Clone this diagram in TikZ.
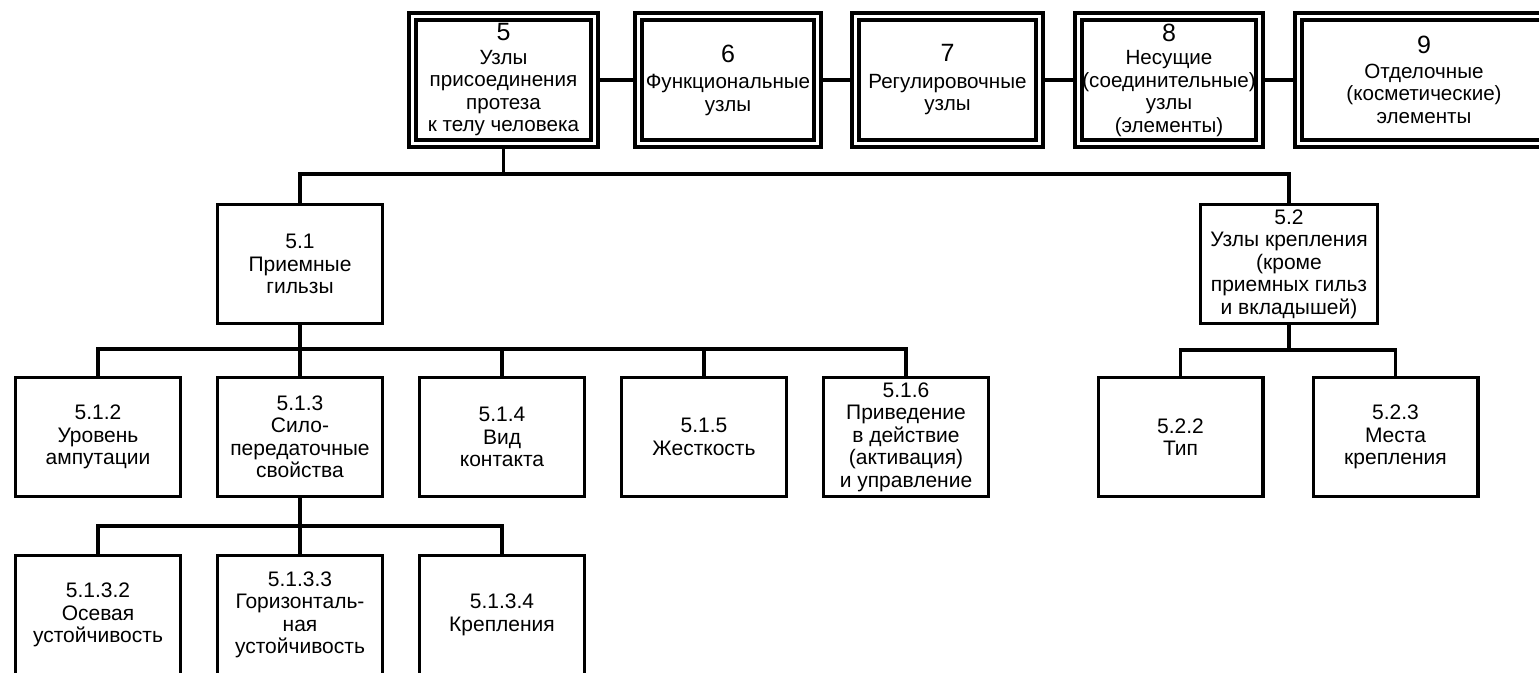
\documentclass[tikz,border=0pt]{standalone}
\usepackage{fontspec}
\setmainfont{Liberation Sans}
\usetikzlibrary{positioning}

\begin{document}
\begin{tikzpicture}[x=0.5pt,y=0.5pt,yscale=-1,xscale=1,
  topbox/.style={draw, double, line width=1.9pt, double distance=1.6pt, inner sep=0pt, minimum height=63.6pt, align=center, font=\fontsize{10.3}{11.25}\selectfont},
  subbox/.style={draw, line width=1.65pt, inner sep=0pt, minimum width=82.35pt, minimum height=59.35pt, align=center, font=\fontsize{10.5}{11.25}\selectfont},
  link/.style={line width=1.65pt, line cap=rect},
  toplink/.style={link, shorten <=2.6pt, shorten >=2.6pt}]
%set diagram size 1539 x 673
\useasboundingbox (0,0) rectangle (1539,673);
\clip (0,0) rectangle (1539,673);

%Shape: Double Rectangles (top row)
\node (n5) [topbox, minimum width=91.1pt] at (503.5,80) {{\fontsize{12.5}{13}\selectfont 5}\\[0.5pt]Узлы\\присоединения\\протеза\\к телу человека};
\node (n6) [topbox, minimum width=89.6pt] at (728,80) {{\fontsize{12.5}{13}\selectfont 6}\\[2pt]Функциональные\\узлы};
\node (n7) [topbox, minimum width=92.1pt] at (947.5,80) {{\fontsize{12.5}{13}\selectfont 7}\\[2pt]Регулировочные\\узлы};
\node (n8) [topbox, minimum width=90.6pt] at (1169,80) {{\fontsize{12.5}{13}\selectfont 8}\\[0.5pt]Несущие\\(соединительные)\\узлы\\(элементы)};
\node (n9) [topbox, minimum width=125.6pt] at (1424,80) {{\fontsize{12.5}{13}\selectfont 9}\\[1pt]Отделочные\\(косметические)\\элементы};

%Shape: Rectangles (second level)
\node (n51) [subbox] at (300,264) {5.1\\Приемные\\гильзы};
\node (n52) [subbox, minimum width=88.35pt] at (1289,264) {5.2\\Узлы крепления\\(кроме\\приемных гильз\\и вкладышей)};

%Shape: Rectangles (third level)
\node (n512) [subbox] at (98,437) {5.1.2\\Уровень\\ампутации};
\node (n513) [subbox] at (300,437) {5.1.3\\Сило-\\передаточные\\свойства};
\node (n514) [subbox] at (502,437) {5.1.4\\Вид\\контакта};
\node (n515) [subbox] at (704,437) {5.1.5\\Жесткость};
\node (n516) [subbox] at (906,437) {5.1.6\\Приведение\\в действие\\(активация)\\и управление};
\node (n522) [subbox] at (1180.5,437) {5.2.2\\Тип};
\node (n523) [subbox] at (1395.5,437) {5.2.3\\Места\\крепления};

%Shape: Rectangles (fourth level)
\node (n5132) [subbox] at (98,615) {5.1.3.2\\Осевая\\устойчивость};
\node (n5133) [subbox] at (300,615) {5.1.3.3\\Горизонталь-\\ная\\устойчивость};
\node (n5134) [subbox] at (502,615) {5.1.3.4\\Крепления};

%Straight Lines (top row)
\draw [toplink] (n5.east) -- (n6.west);
\draw [toplink] (n6.east) -- (n7.west);
\draw [toplink] (n7.east) -- (n8.west);
\draw [toplink] (n8.east) -- (n9.west);

%Straight Lines (5 to 5.1, 5.2)
\coordinate (bus1) at (503.5,174);
\draw [link, shorten <=2.6pt] (n5.south) -- (bus1);
\draw [link] (bus1 -| n51.north) -- (bus1 -| n52.north);
\foreach \k in {n51,n52}
  \draw [link] (bus1 -| \k.north) -- (\k.north);

%Straight Lines (5.1 to 5.1.x)
\coordinate (bus2) at (300,349);
\draw [link] (n51.south) -- (bus2);
\draw [link] (bus2 -| n512.north) -- (bus2 -| n516.north);
\foreach \k in {n512,n513,n514,n515,n516}
  \draw [link] (bus2 -| \k.north) -- (\k.north);

%Straight Lines (5.2 to 5.2.x)
\coordinate (bus3) at (1289,350);
\draw [link] (n52.south) -- (bus3);
\draw [link] (bus3 -| n522.north) -- (bus3 -| n523.north);
\foreach \k in {n522,n523}
  \draw [link] (bus3 -| \k.north) -- (\k.north);

%Straight Lines (5.1.3 to 5.1.3.x)
\coordinate (bus4) at (300,526);
\draw [link] (n513.south) -- (bus4);
\draw [link] (bus4 -| n5132.north) -- (bus4 -| n5134.north);
\foreach \k in {n5132,n5133,n5134}
  \draw [link] (bus4 -| \k.north) -- (\k.north);

\end{tikzpicture}
\end{document}
